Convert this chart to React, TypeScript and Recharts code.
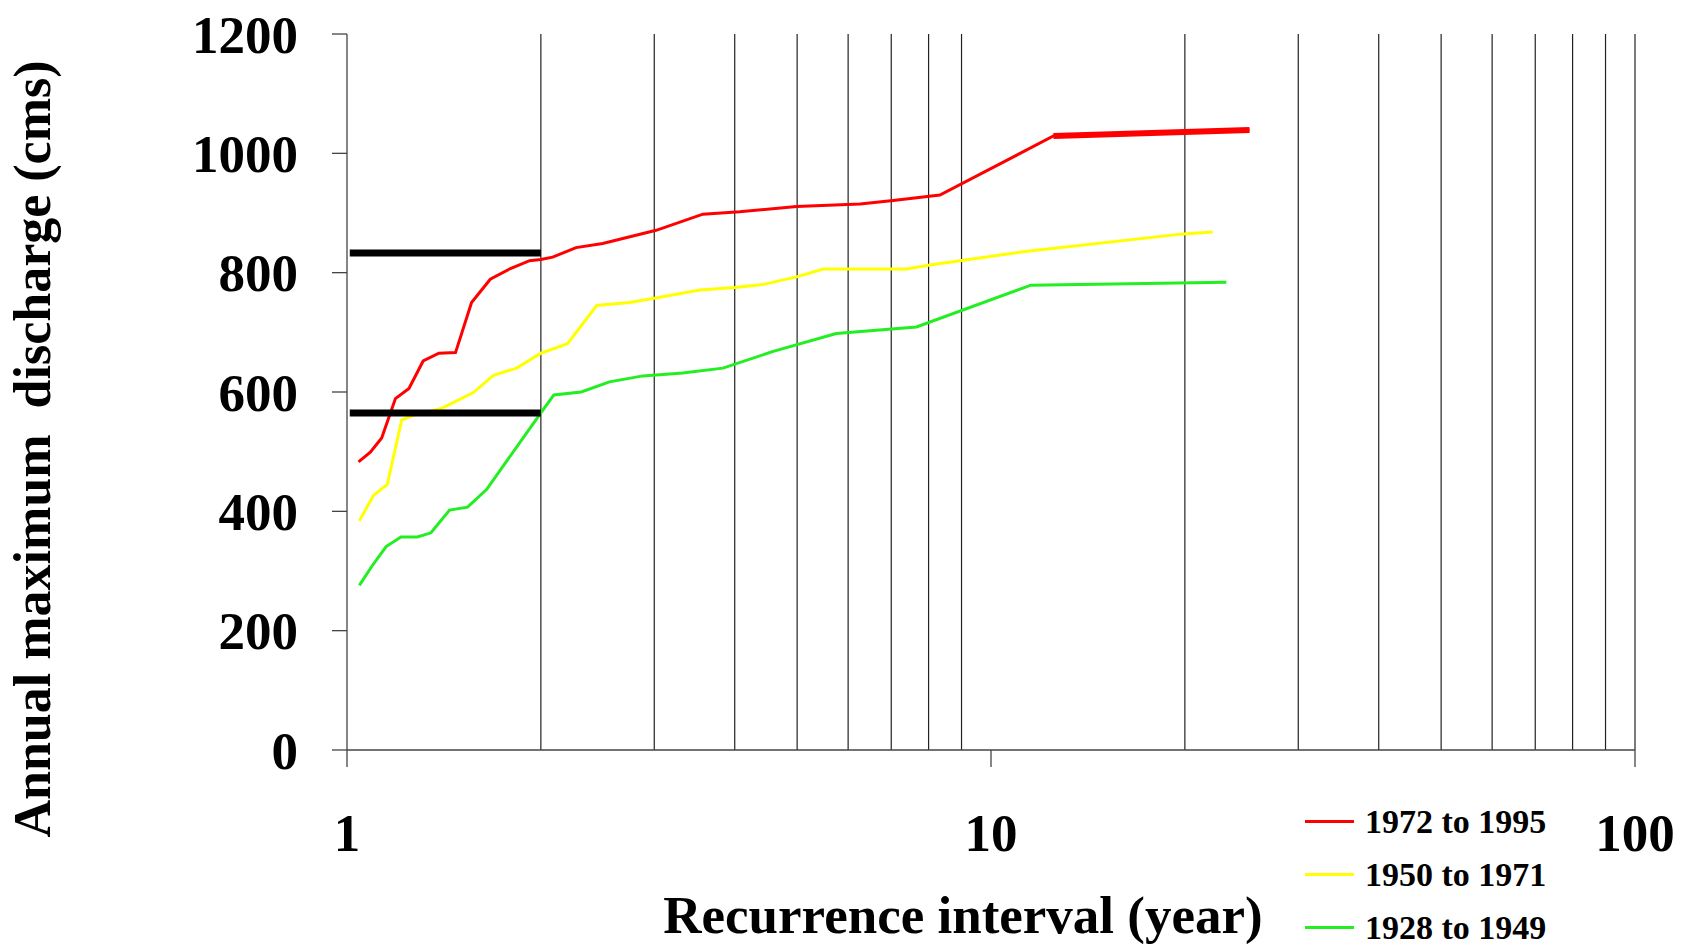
import React from 'react';
import {
  LineChart,
  Line,
  XAxis,
  YAxis,
  ReferenceLine,
  Legend,
  Label,
} from 'recharts';

// recurrence interval (year), annual maximum discharge (cms)
const period1972to1995: [number, number][] = [
  [1.042, 483], [1.087, 499], [1.132, 523], [1.189, 589], [1.248, 606],
  [1.313, 652], [1.389, 665], [1.474, 666], [1.561, 750], [1.669, 789],
  [1.794, 807], [1.921, 820], [2.0, 822], [2.086, 826], [2.268, 842],
  [2.495, 849], [3.02, 871], [3.57, 898], [4.07, 902], [4.99, 911],
  [6.26, 915], [7.05, 921], [8.33, 930], [12.5, 1029], [25.2, 1039],
];

const period1950to1971: [number, number][] = [
  [1.045, 384], [1.1, 427], [1.155, 445], [1.216, 553], [1.262, 560],
  [1.405, 573], [1.571, 599], [1.688, 628], [1.834, 640], [2.0, 665],
  [2.2, 681], [2.442, 745], [2.746, 750], [3.0, 757], [3.53, 771],
  [4.0, 775], [4.42, 780], [4.99, 793], [5.49, 806], [7.39, 806],
  [8.04, 813], [9.96, 827], [11.2, 835], [19.9, 865], [22.1, 868],
];

const period1928to1949: [number, number][] = [
  [1.045, 276], [1.093, 308], [1.15, 341], [1.213, 357], [1.286, 357],
  [1.35, 364], [1.443, 402], [1.539, 407], [1.648, 437], [2.0, 565],
  [2.095, 595], [2.31, 600], [2.556, 617], [2.88, 627], [3.32, 632],
  [3.835, 640], [4.59, 668], [5.75, 698], [7.66, 709], [11.53, 779],
  [23.2, 784],
];

// heavier stroke on the last red segment
const redTail: [number, number][] = [[12.5, 1029], [25.2, 1039]];

// black horizontal markers
const upperMarker: [number, number][] = [[1.01, 833], [2.0, 833]];
const lowerMarker: [number, number][] = [[1.01, 565], [2.0, 565]];

const seriesNames = ['1972 to 1995', '1950 to 1971', '1928 to 1949'];
const xTicks = [1, 10, 100];
const yTicks = [0, 200, 400, 600, 800, 1000, 1200];
const minorX = [2, 3, 4, 5, 6, 7, 8, 9, 20, 30, 40, 50, 60, 70, 80, 90, 100];

const toPoints = (arr: [number, number][]) => arr.map(([x, y]) => ({ x, y }));

const FONT = '"Liberation Serif", "Times New Roman", serif';

const YTick = (props: any) => {
  const { x, y, payload } = props;
  return (
    <text x={x} y={y} dy="0.355em" textAnchor="end" fontFamily={FONT} fontSize={53} fontWeight={700} fill="#000">
      {payload.value}
    </text>
  );
};

const XTick = (props: any) => {
  const { x, y, payload } = props;
  return (
    <text x={x} y={y} dy="0.71em" textAnchor="middle" fontFamily={FONT} fontSize={53} fontWeight={700} fill="#000">
      {payload.value}
    </text>
  );
};

const XTitle = () => (
  <text x={963} y={933} textAnchor="middle" fontFamily={FONT} fontSize={53} fontWeight={700} fill="#000">
    Recurrence interval (year)
  </text>
);

const YTitle = () => (
  <text
    transform="rotate(-90)"
    x={-449}
    y={50}
    textAnchor="middle"
    fontFamily={FONT}
    fontSize={52}
    fontWeight={700}
    fill="#000"
    style={{ whiteSpace: 'pre' }}
  >
    {'Annual maximum  discharge (cms)'}
  </text>
);

const LegendBox = (props: any) => {
  const items = (props.payload || [])
    .filter((p: any) => seriesNames.includes(p.value))
    .sort((a: any, b: any) => seriesNames.indexOf(a.value) - seriesNames.indexOf(b.value));
  return (
    <div>
      {items.map((item: any) => (
        <div key={item.value} style={{ display: 'flex', alignItems: 'center', height: 53 }}>
          <div style={{ width: 49, height: 3, background: item.color, marginRight: 11 }} />
          <span style={{ fontFamily: FONT, fontSize: 34, fontWeight: 700, color: '#000', lineHeight: '53px' }}>
            {item.value}
          </span>
        </div>
      ))}
    </div>
  );
};

export default function App() {
  return (
    <div style={{ position: 'absolute', left: 0, top: 0, background: '#fff' }}>
      <LineChart width={1688} height={944} margin={{ top: 34, right: 53, bottom: 0, left: 227 }}>
        <XAxis
          dataKey="x"
          type="number"
          scale="log"
          domain={[1, 100]}
          ticks={xTicks}
          allowDataOverflow
          height={194}
          tickSize={17}
          tickMargin={46}
          tick={<XTick />}
          stroke="#444"
          strokeWidth={1.3}
        >
          <Label content={<XTitle />} />
        </XAxis>
        <YAxis
          type="number"
          domain={[0, 1200]}
          ticks={yTicks}
          width={120}
          tickSize={15}
          tickMargin={34}
          tick={<YTick />}
          stroke="#444"
          strokeWidth={1.3}
        >
          <Label content={<YTitle />} />
        </YAxis>
        {minorX.map((v) => (
          <ReferenceLine key={v} x={v} stroke="#222" strokeWidth={1.2} />
        ))}
        <Legend
          layout="horizontal"
          verticalAlign="middle"
          align="center"
          content={<LegendBox />}
          wrapperStyle={{ position: 'absolute', left: 1305, top: 795, width: 300 }}
        />
        <Line
          data={toPoints(period1972to1995)}
          dataKey="y"
          name={seriesNames[0]}
          stroke="#FF0000"
          strokeWidth={3}
          dot={false}
          isAnimationActive={false}
        />
        <Line
          data={toPoints(period1950to1971)}
          dataKey="y"
          name={seriesNames[1]}
          stroke="#FFFF00"
          strokeWidth={3}
          dot={false}
          isAnimationActive={false}
        />
        <Line
          data={toPoints(period1928to1949)}
          dataKey="y"
          name={seriesNames[2]}
          stroke="#22EE22"
          strokeWidth={3}
          dot={false}
          isAnimationActive={false}
        />
        <Line
          data={toPoints(redTail)}
          dataKey="y"
          name="tail"
          legendType="none"
          stroke="#FF0000"
          strokeWidth={6}
          dot={false}
          isAnimationActive={false}
        />
        <Line
          data={toPoints(upperMarker)}
          dataKey="y"
          name="upper"
          legendType="none"
          stroke="#000"
          strokeWidth={7}
          strokeLinecap="butt"
          dot={false}
          isAnimationActive={false}
        />
        <Line
          data={toPoints(lowerMarker)}
          dataKey="y"
          name="lower"
          legendType="none"
          stroke="#000"
          strokeWidth={7}
          strokeLinecap="butt"
          dot={false}
          isAnimationActive={false}
        />
      </LineChart>
    </div>
  );
}
